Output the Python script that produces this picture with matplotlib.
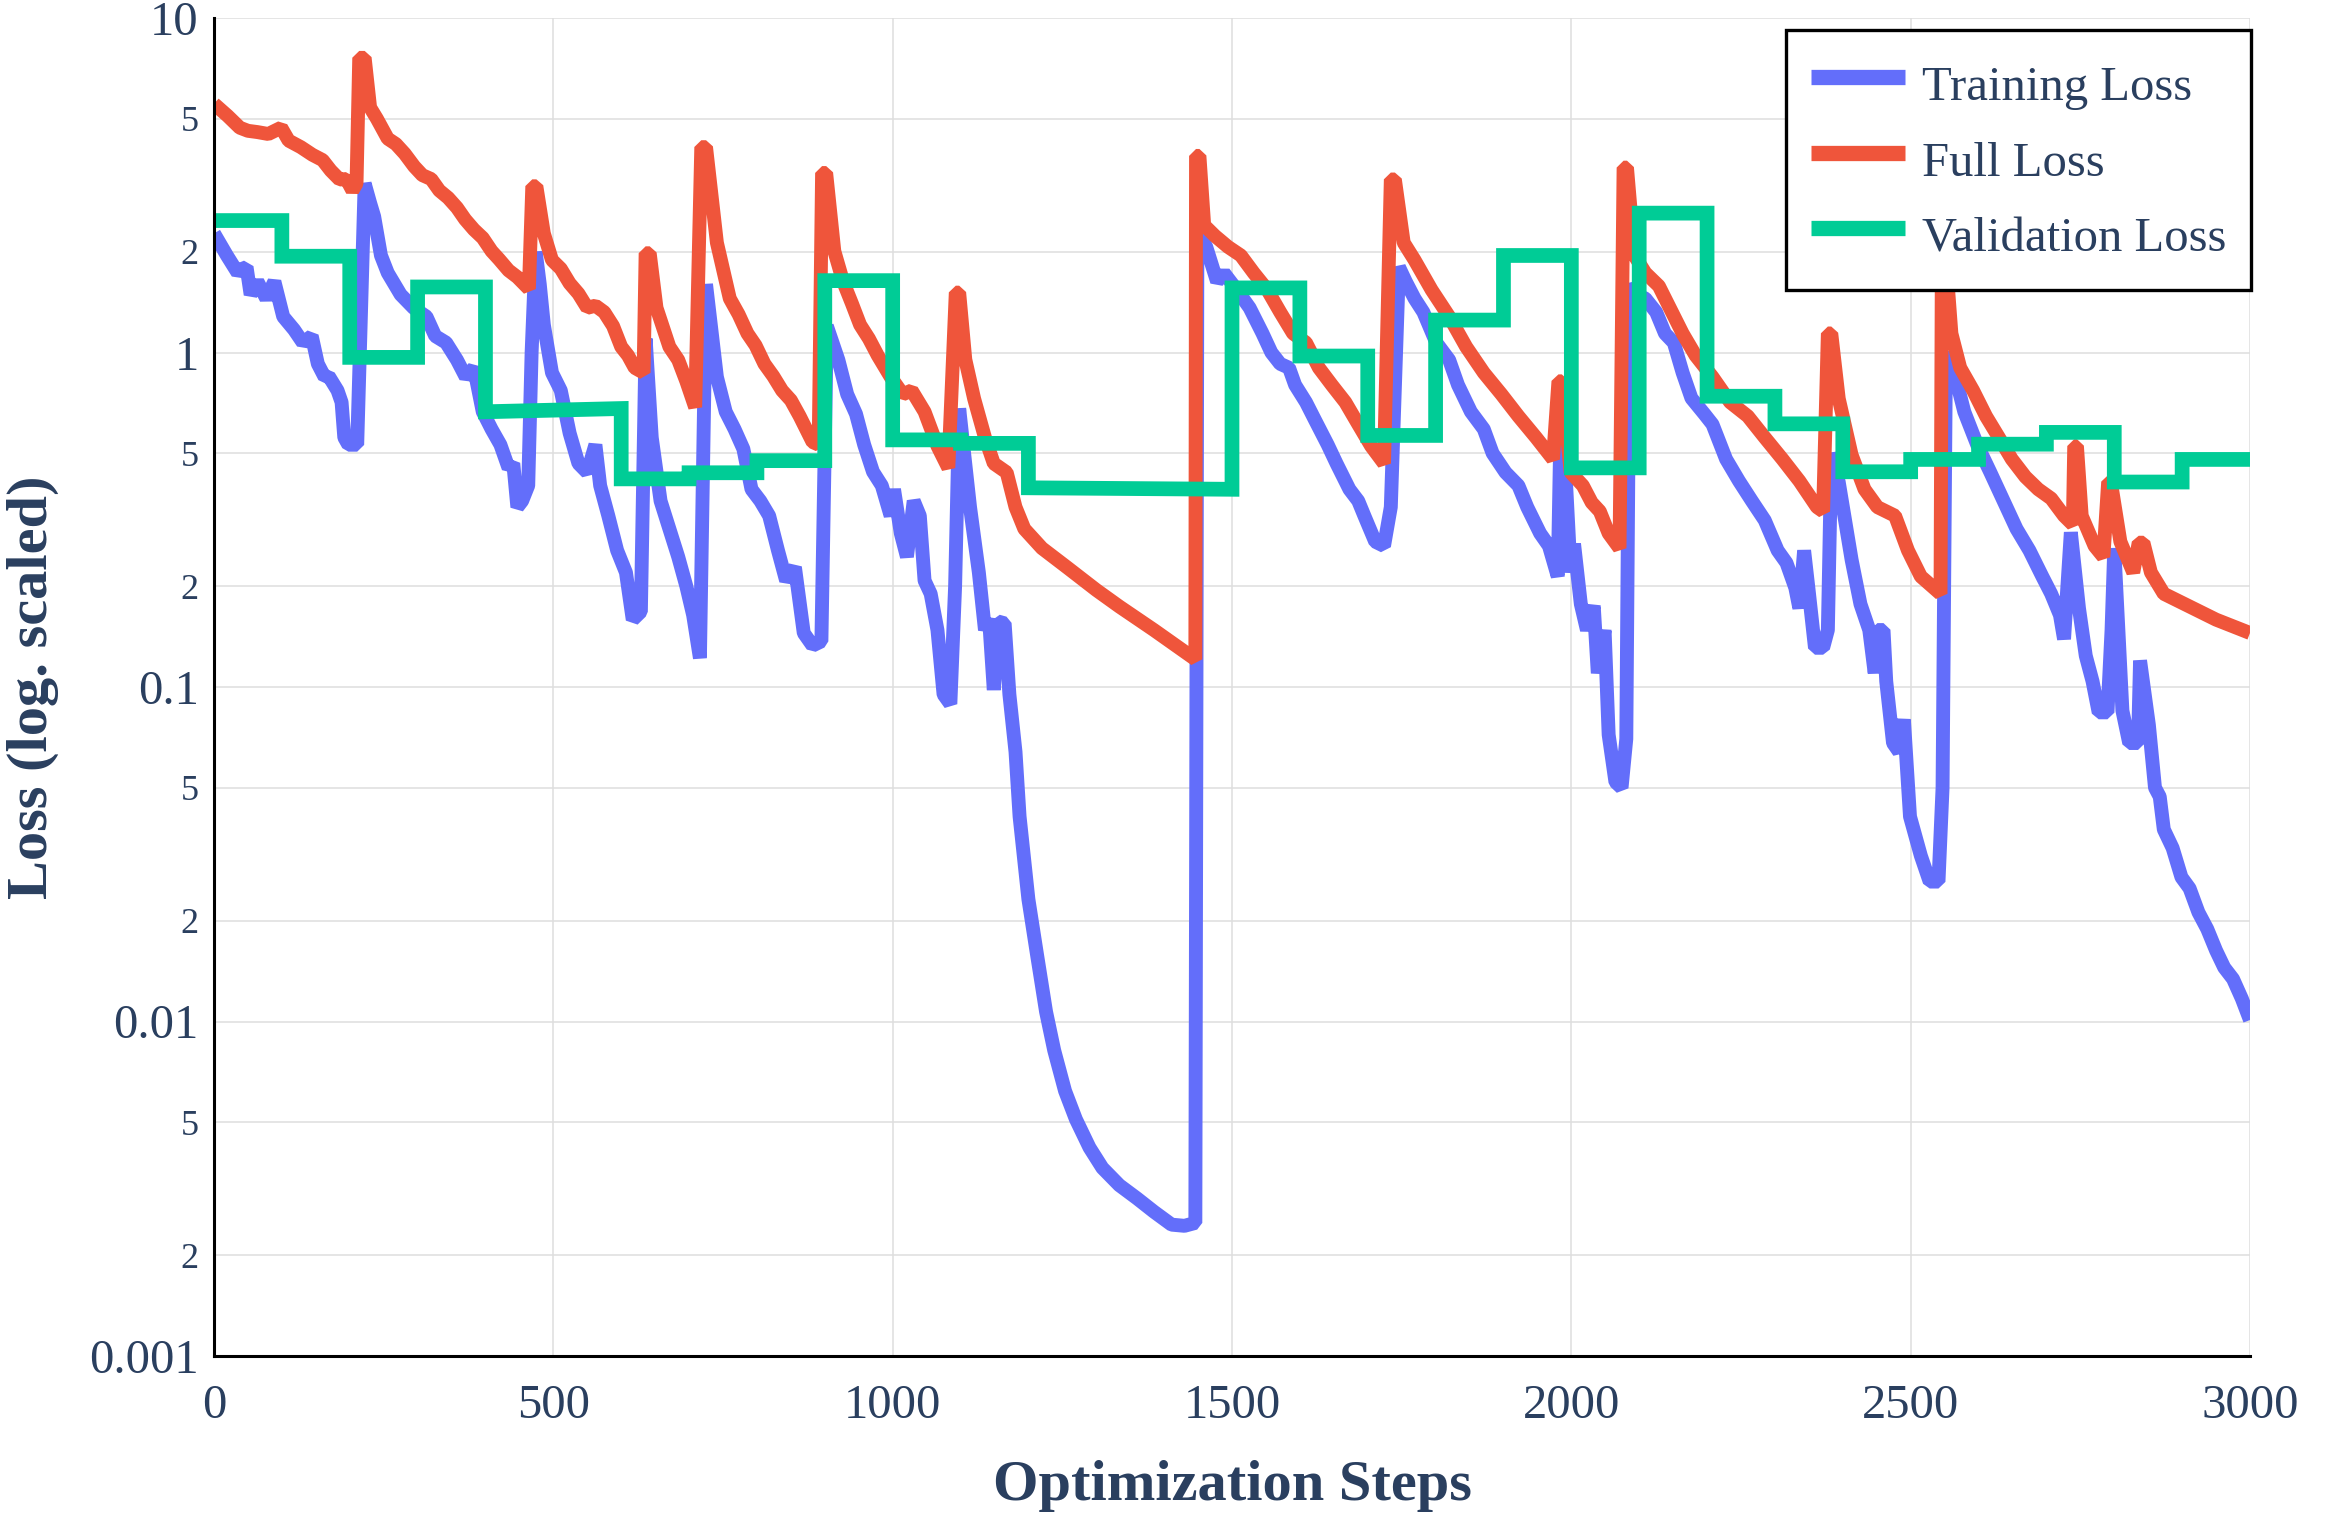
import matplotlib
matplotlib.use("Agg")
import matplotlib.pyplot as plt
from matplotlib.ticker import FixedLocator, FixedFormatter

# ---------------- data ----------------
train_steps = [0, 19, 35, 42, 48, 54, 64, 77, 89, 102, 118, 131, 144, 153, 163, 169, 182, 188, 192, 198,
               211, 216, 222, 230, 236, 246, 256, 275, 294, 313, 326, 342, 358, 371, 383, 396, 409, 422,
               434, 441, 447, 454, 463, 468, 474, 480, 486, 498, 511, 524, 537, 550, 562, 569, 581, 594,
               607, 617, 629, 636, 645, 658, 671, 684, 696, 706, 716, 725, 741, 754, 767, 780, 792, 805,
               818, 831, 843, 856, 869, 882, 895, 903, 920, 933, 946, 958, 971, 984, 997, 1002, 1012,
               1021, 1031, 1040, 1047, 1056, 1066, 1075, 1085, 1092, 1098, 1114, 1127, 1136, 1142, 1149,
               1155, 1165, 1172, 1181, 1187, 1200, 1213, 1226, 1238, 1254, 1270, 1290, 1309, 1334, 1360,
               1385, 1411, 1430, 1446, 1449, 1462, 1478, 1488, 1507, 1526, 1545, 1558, 1571, 1584, 1593,
               1609, 1622, 1641, 1654, 1673, 1686, 1695, 1711, 1724, 1734, 1746, 1756, 1769, 1782, 1801,
               1820, 1833, 1852, 1871, 1884, 1903, 1922, 1935, 1954, 1967, 1980, 1985, 1999, 2004, 2014,
               2023, 2033, 2039, 2049, 2055, 2065, 2074, 2081, 2086, 2093, 2109, 2125, 2138, 2151, 2164,
               2177, 2196, 2208, 2228, 2247, 2266, 2285, 2304, 2317, 2330, 2336, 2343, 2349, 2359, 2371,
               2378, 2383, 2394, 2413, 2426, 2439, 2447, 2451, 2460, 2464, 2474, 2483, 2490, 2499, 2515,
               2528, 2541, 2547, 2552, 2566, 2579, 2598, 2617, 2637, 2656, 2675, 2694, 2707, 2720, 2726,
               2736, 2748, 2758, 2768, 2777, 2790, 2796, 2800, 2812, 2822, 2835, 2838, 2851, 2860, 2867,
               2873, 2886, 2899, 2911, 2924, 2937, 2950, 2962, 2975, 2988, 3000]
train_loss = [2.27, 1.95, 1.73, 1.78, 1.8, 1.49, 1.63, 1.45, 1.63, 1.28, 1.17, 1.07, 1.12, 0.925, 0.845,
              0.85, 0.77, 0.71, 0.557, 0.53, 0.53, 1.2, 3.2, 2.8, 2.55, 1.95, 1.73, 1.49, 1.36, 1.28, 1.12,
              1.07, 0.95, 0.845, 0.90, 0.665, 0.59, 0.53, 0.452, 0.466, 0.345, 0.36, 0.40, 1.0, 2.0, 1.6,
              1.21, 0.87, 0.77, 0.574, 0.466, 0.438, 0.53, 0.40, 0.325, 0.256, 0.22, 0.159, 0.168, 1.1,
              0.557, 0.36, 0.297, 0.245, 0.2, 0.164, 0.122, 1.6, 0.845, 0.665, 0.59, 0.515, 0.39, 0.36,
              0.325, 0.256, 0.208, 0.228, 0.145, 0.133, 0.137, 1.2, 0.95, 0.75, 0.655, 0.53, 0.44, 0.40,
              0.325, 0.39, 0.288, 0.245, 0.36, 0.325, 0.208, 0.19, 0.148, 0.095, 0.089, 0.2, 0.68, 0.345,
              0.22, 0.148, 0.16, 0.098, 0.157, 0.155, 0.095, 0.064, 0.041, 0.0232, 0.0157, 0.0107, 0.0082,
              0.0062, 0.0051, 0.0042, 0.00365, 0.00324, 0.00296, 0.0027, 0.00247, 0.00245, 0.0025, 2.33,
              2.07, 1.63, 1.73, 1.54, 1.36, 1.14, 1.0, 0.925, 0.90, 0.80, 0.71, 0.63, 0.53, 0.466, 0.39,
              0.36, 0.325, 0.272, 0.264, 0.345, 1.8, 1.63, 1.45, 1.32, 1.07, 0.95, 0.80, 0.665, 0.59, 0.5,
              0.438, 0.40, 0.345, 0.288, 0.264, 0.214, 0.78, 0.22, 0.268, 0.177, 0.148, 0.175, 0.11, 0.148,
              0.072, 0.052, 0.05, 0.07, 1.6, 1.5, 1.45, 1.32, 1.14, 1.07, 0.87, 0.73, 0.655, 0.61, 0.48,
              0.413, 0.36, 0.315, 0.256, 0.235, 0.198, 0.172, 0.256, 0.2, 0.131, 0.131, 0.148, 0.5, 0.41,
              0.24, 0.177, 0.148, 0.11, 0.148, 0.148, 0.104, 0.068, 0.064, 0.08, 0.041, 0.0313, 0.0262,
              0.0262, 0.05, 1.0, 0.845, 0.665, 0.53, 0.44, 0.36, 0.297, 0.256, 0.214, 0.19, 0.164, 0.139,
              0.29, 0.172, 0.124, 0.104, 0.084, 0.084, 0.148, 0.26, 0.085, 0.068, 0.068, 0.12, 0.077,
              0.05, 0.047, 0.0375, 0.033, 0.027, 0.025, 0.0212, 0.0189, 0.0163, 0.0145, 0.0134, 0.0117,
              0.0101]

full_steps = [0, 20, 38, 50, 64, 80, 99, 110, 128, 145, 160, 172, 185, 195, 204, 210, 214, 222, 230, 240,
              256, 268, 281, 295, 307, 320, 332, 345, 358, 370, 383, 396, 409, 420, 434, 447, 460, 464,
              469, 475, 486, 498, 511, 524, 537, 550, 562, 575, 588, 600, 610, 620, 633, 636, 642, 652,
              671, 684, 696, 709, 718, 725, 741, 760, 773, 786, 798, 811, 824, 837, 850, 863, 882, 891,
              896, 902, 914, 927, 940, 952, 965, 978, 997, 1015, 1028, 1047, 1066, 1082, 1093, 1098,
              1107, 1120, 1136, 1149, 1168, 1181, 1194, 1220, 1258, 1300, 1334, 1385, 1446, 1447, 1452,
              1459, 1475, 1494, 1513, 1532, 1552, 1571, 1590, 1609, 1628, 1647, 1667, 1686, 1705, 1724,
              1734, 1740, 1753, 1769, 1794, 1820, 1845, 1871, 1897, 1922, 1948, 1973, 1981, 1986, 1999,
              2017, 2030, 2042, 2055, 2071, 2077, 2082, 2093, 2109, 2129, 2145, 2164, 2183, 2208, 2234,
              2260, 2285, 2311, 2336, 2362, 2371, 2378, 2383, 2394, 2413, 2432, 2451, 2477, 2496, 2515,
              2544, 2546, 2551, 2560, 2573, 2592, 2611, 2630, 2649, 2669, 2688, 2707, 2726, 2739, 2741,
              2745, 2752, 2771, 2784, 2791, 2795, 2809, 2828, 2836, 2843, 2854, 2873, 2911, 2950, 3000]
full_loss = [5.54, 5.1, 4.7, 4.6, 4.56, 4.5, 4.7, 4.3, 4.11, 3.9, 3.76, 3.5, 3.29, 3.3, 3.05, 3.2, 7.6,
             7.6, 5.4, 5.0, 4.36, 4.2, 3.93, 3.6, 3.39, 3.3, 3.05, 2.9, 2.71, 2.5, 2.33, 2.2, 2.01, 1.9,
             1.76, 1.68, 1.58, 1.55, 3.14, 3.14, 2.27, 1.89, 1.78, 1.61, 1.5, 1.36, 1.38, 1.32, 1.2, 1.04,
             0.98, 0.90, 0.87, 1.98, 1.98, 1.36, 1.04, 0.95, 0.82, 0.686, 4.11, 4.11, 2.13, 1.45, 1.3,
             1.14, 1.05, 0.925, 0.85, 0.77, 0.72, 0.645, 0.54, 0.53, 3.44, 3.44, 2.01, 1.63, 1.4, 1.21,
             1.1, 0.98, 0.845, 0.75, 0.77, 0.665, 0.525, 0.452, 1.51, 1.51, 0.953, 0.728, 0.557, 0.466,
             0.438, 0.345, 0.297, 0.26, 0.227, 0.195, 0.174, 0.148, 0.121, 3.87, 3.87, 2.4, 2.23, 2.07,
             1.95, 1.73, 1.54, 1.32, 1.14, 1.07, 0.90, 0.80, 0.71, 0.61, 0.525, 0.466, 3.29, 3.29, 2.13,
             1.89, 1.54, 1.28, 1.04, 0.87, 0.75, 0.645, 0.557, 0.48, 0.82, 0.82, 0.438, 0.40, 0.356,
             0.335, 0.288, 0.26, 3.57, 3.57, 1.95, 1.73, 1.58, 1.36, 1.14, 0.98, 0.845, 0.71, 0.645,
             0.557, 0.48, 0.413, 0.345, 0.335, 1.14, 1.14, 0.728, 0.494, 0.39, 0.345, 0.325, 0.256,
             0.214, 0.19, 2.0, 2.0, 1.14, 0.90, 0.77, 0.645, 0.557, 0.48, 0.425, 0.39, 0.366, 0.325,
             0.306, 0.525, 0.525, 0.325, 0.264, 0.245, 0.41, 0.41, 0.272, 0.22, 0.27, 0.27, 0.22, 0.19,
             0.174, 0.159, 0.145]

val_steps = [0, 100, 100, 200, 200, 300, 300, 400, 400, 600, 600, 700, 700, 800, 800, 900, 900, 1000,
             1000, 1100, 1100, 1200, 1200, 1500, 1500, 1600, 1600, 1700, 1700, 1800, 1800, 1900, 1900,
             2000, 2000, 2100, 2100, 2200, 2200, 2300, 2300, 2400, 2400, 2500, 2500, 2600, 2600, 2700,
             2700, 2800, 2800, 2900, 2900, 3000]
val_loss = [2.48, 2.48, 1.94, 1.94, 0.967, 0.967, 1.57, 1.57, 0.665, 0.68, 0.419, 0.419, 0.437, 0.437,
            0.475, 0.475, 1.64, 1.64, 0.548, 0.548, 0.535, 0.535, 0.394, 0.39, 1.56, 1.56, 0.976, 0.976,
            0.565, 0.565, 1.25, 1.25, 1.95, 1.95, 0.452, 0.452, 2.61, 2.61, 0.74, 0.74, 0.612, 0.612,
            0.44, 0.44, 0.479, 0.479, 0.532, 0.532, 0.577, 0.577, 0.41, 0.41, 0.479, 0.479]

x_ticks = [0, 500, 1000, 1500, 2000, 2500, 3000]
y_major = [0.001, 0.01, 0.1, 1, 10]
y_major_labels = ["0.001", "0.01", "0.1", "1", "10"]
y_minor = [0.002, 0.005, 0.02, 0.05, 0.2, 0.5, 2, 5]
y_minor_labels = ["2", "5", "2", "5", "2", "5", "2", "5"]
series_names = ["Training Loss", "Full Loss", "Validation Loss"]

# ---------------- style ----------------
TEXT = "#2a3f5f"
GRID = "#dedede"
plt.rcParams["font.family"] = ["Liberation Serif", "DejaVu Serif"]

fig = plt.figure(figsize=(23.46, 15.14), dpi=100)
ax = fig.add_axes([214 / 2346, 1 - 1356 / 1514, 2036 / 2346, 1338 / 1514])

lw = 10
ax.plot(train_steps, train_loss, color="#636EFA", lw=lw, label=series_names[0],
        solid_joinstyle="bevel", solid_capstyle="butt")
ax.plot(full_steps, full_loss, color="#EF553B", lw=lw, label=series_names[1],
        solid_joinstyle="bevel", solid_capstyle="butt")
ax.plot(val_steps, val_loss, color="#00CC96", lw=10.6, label=series_names[2],
        solid_joinstyle="miter", solid_capstyle="butt")

ax.set_yscale("log")
ax.set_xlim(0, 3000)
ax.set_ylim(0.001, 10)

ax.xaxis.set_major_locator(FixedLocator(x_ticks))
ax.set_xticklabels([str(t) for t in x_ticks])
ax.yaxis.set_major_locator(FixedLocator(y_major))
ax.yaxis.set_major_formatter(FixedFormatter(y_major_labels))
ax.yaxis.set_minor_locator(FixedLocator(y_minor))
ax.yaxis.set_minor_formatter(FixedFormatter(y_minor_labels))

ax.tick_params(axis="both", which="both", length=0, colors=TEXT)
ax.tick_params(axis="y", which="major", labelsize=35, pad=11)
ax.tick_params(axis="y", which="minor", labelsize=26, pad=11)
ax.tick_params(axis="x", which="major", labelsize=35, pad=20)

ax.grid(True, which="both", axis="y", color=GRID, lw=1.1)
ax.grid(True, which="major", axis="x", color=GRID, lw=1.1)
ax.set_axisbelow(True)

for s in ["top", "right"]:
    ax.spines[s].set_visible(False)
for s in ["left", "bottom"]:
    ax.spines[s].set_linewidth(2.2)
    ax.spines[s].set_color("black")

ax.set_xlabel("Optimization Steps", fontsize=42, fontweight="bold", color=TEXT, va="center")
ax.xaxis.set_label_coords(0.5, (1356 - 1486) / 1338)
ax.set_ylabel("Loss (log. scaled)", fontsize=42, fontweight="bold", color=TEXT, va="center")
ax.yaxis.set_label_coords((33 - 214) / 2036, 0.5)

leg = ax.legend(loc="upper right", bbox_to_anchor=((2251 - 214) / 2036, 1 - (30 - 18) / 1338),
                borderaxespad=0, fontsize=35, frameon=True, fancybox=False, framealpha=1,
                edgecolor="black", handlelength=1.95, handletextpad=0.35, labelspacing=0.31,
                handleheight=1.53, borderpad=0.5)
leg.get_frame().set_linewidth(2.4)
for t in leg.get_texts():
    t.set_color(TEXT)
for h in leg.get_lines():
    h.set_linewidth(11)

fig.savefig("out.png", dpi=100, facecolor="white")
